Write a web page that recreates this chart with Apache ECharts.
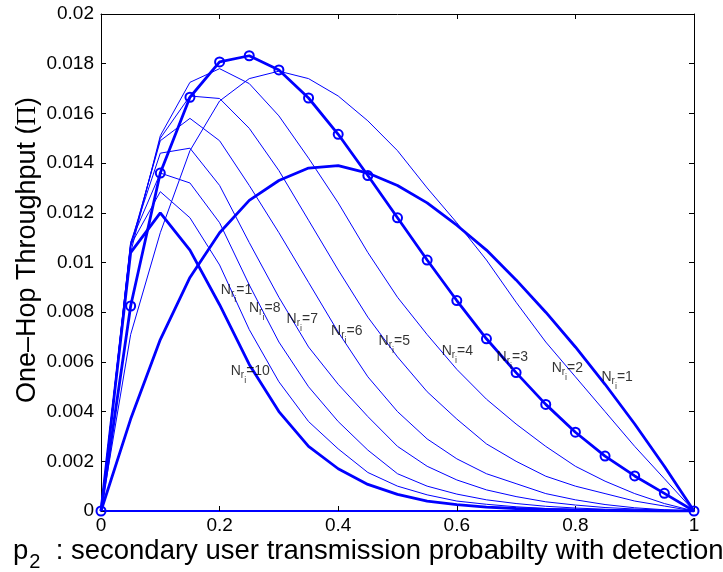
<!DOCTYPE html>
<html>
<head>
<meta charset="utf-8">
<script src="https://cdn.jsdelivr.net/npm/echarts@6/dist/echarts.min.js"></script>
<style>
  html, body { margin: 0; padding: 0; background: #fff; }
  #chart { width: 723px; height: 572px; }
</style>
</head>
<body>
<div id="chart"></div>
<script>
// Transmission probability p2 (x axis samples)
const p2 = [0, 0.05, 0.1, 0.15, 0.2, 0.25, 0.3, 0.35, 0.4, 0.45, 0.5,
            0.55, 0.6, 0.65, 0.7, 0.75, 0.8, 0.85, 0.9, 0.95, 1];

// One-hop throughput for each number of relays N_r_i
const nr1  = [0, 0.0037, 0.0069, 0.0094, 0.0112, 0.0125, 0.0133, 0.0138, 0.0139, 0.0136, 0.0131,
              0.0124, 0.0115, 0.0105, 0.0093, 0.0080, 0.0066, 0.0051, 0.0035, 0.0018, 0];
const nr2  = [0, 0.0071, 0.0112, 0.0145, 0.0165, 0.0174, 0.0177, 0.0174, 0.0167, 0.0157, 0.0145,
              0.0130, 0.0116, 0.0101, 0.0084, 0.0068, 0.0054, 0.0040, 0.0026, 0.0013, 0];
const nr3  = [0, 0.00825, 0.0136, 0.01665, 0.01807, 0.01832, 0.01775, 0.01662, 0.01516, 0.0135, 0.0118,
              0.0101, 0.00847, 0.00693, 0.00557, 0.00429, 0.00317, 0.00221, 0.00141, 0.00071, 0];
const nr4  = [0, 0.0104, 0.0151, 0.01725, 0.0178, 0.0172, 0.0159, 0.0142, 0.0124, 0.0104, 0.0086,
              0.0071, 0.0057, 0.0045, 0.0035, 0.0026, 0.0018, 0.0012, 0.0007, 0.0003, 0];
const nr5  = [0, 0.0106, 0.0150, 0.0167, 0.0166, 0.0154, 0.0137, 0.0117, 0.0097, 0.0078, 0.0062,
              0.0048, 0.0037, 0.0027, 0.0020, 0.0014, 0.0010, 0.0007, 0.0004, 0.0002, 0];
const nr6  = [0, 0.0107, 0.0149, 0.0158, 0.0149, 0.0131, 0.0112, 0.0092, 0.0072, 0.0054, 0.0040,
              0.0029, 0.0021, 0.0015, 0.0011, 0.0007, 0.00045, 0.00026, 0.00013, 0.00005, 0];
const nr7  = [0, 0.0108, 0.0144, 0.0146, 0.0131, 0.0108, 0.0086, 0.0066, 0.0051, 0.0038, 0.0026,
              0.0018, 0.00125, 0.00085, 0.00058, 0.00037, 0.00024, 0.00014, 0.00008, 0.00003, 0];
const nr8  = [0, 0.0108, 0.0136, 0.0132, 0.0116, 0.0091, 0.0068, 0.0050, 0.0036, 0.00245, 0.0015,
              0.0010, 0.00068, 0.00045, 0.0003, 0.00019, 0.00012, 0.00007, 0.00004, 0.00002, 0];
const nr9  = [0, 0.0107, 0.01285, 0.0118, 0.0099, 0.0073, 0.0052, 0.0036, 0.0025, 0.00155, 0.0010,
              0.00065, 0.0004, 0.00027, 0.00017, 0.0001, 0.00006, 0.00003, 0.00002, 0.00001, 0];
const nr10 = [0, 0.0104, 0.0120, 0.0105, 0.0083, 0.0059, 0.0040, 0.0026, 0.0017, 0.00107, 0.00067,
              0.0004, 0.00026, 0.00016, 0.0001, 0.00006, 0.00004, 0.00002, 0.00001, 0, 0];

// Curve annotations: text after "N_r_i=", and anchor point (left edge of the label)
const labelText = ['1', '8', '7', '6', '5', '4', '3', '2', '1', '10'];
const labelX    = [0.202, 0.2496, 0.313, 0.388, 0.468, 0.5745, 0.667, 0.760, 0.844, 0.2187];
const labelY    = [0.00905, 0.00833, 0.00789, 0.0074, 0.0070, 0.0066, 0.00636, 0.0059, 0.00555, 0.0058];

// Axis ticks
const xTicks = [0, 0.2, 0.4, 0.6, 0.8, 1];
const yTicks = [0, 0.002, 0.004, 0.006, 0.008, 0.01, 0.012, 0.014, 0.016, 0.018, 0.02];

const BLUE = '#0000ff';
const FONT = 'Liberation Sans, Arial, Helvetica, sans-serif';
const SERIF = 'Liberation Serif, DejaVu Serif, serif';

function pairs(ys) { return p2.map((x, i) => [x, ys[i]]); }

function curve(name, ys, thick, markers) {
  return {
    name: name,
    type: 'line',
    data: pairs(ys),
    showSymbol: !!markers,
    symbol: markers ? 'circle' : 'none',
    symbolSize: 9,
    itemStyle: { color: 'rgba(0,0,0,0)', borderColor: BLUE, borderWidth: 2 },
    lineStyle: { color: BLUE, width: thick ? 2.8 : 1 },
    z: thick ? 3 : 2,
    silent: true
  };
}

const series = [
  curve('Nr=2', nr2, false),
  curve('Nr=4', nr4, false),
  curve('Nr=5', nr5, false),
  curve('Nr=6', nr6, false),
  curve('Nr=7', nr7, false),
  curve('Nr=8', nr8, false),
  curve('Nr=9', nr9, false),
  curve('Nr=1', nr1, true),
  curve('Nr=10', nr10, true),
  curve('Nr=3', nr3, true, true),
  {
    name: 'labels',
    type: 'scatter',
    symbolSize: 0,
    silent: true,
    z: 5,
    data: labelText.map((t, i) => ({ value: [labelX[i], labelY[i]], txt: t })),
    label: {
      show: true,
      position: 'right',
      distance: 0,
      offset: [0, 4],
      formatter: p => '{n|N}{r|r}{i|i}{e|=' + p.data.txt + '}',
      rich: {
        n: { fontSize: 14, lineHeight: 14, fontFamily: FONT, color: '#000', verticalAlign: 'top' },
        r: { fontSize: 10, lineHeight: 10, fontFamily: FONT, color: '#000', verticalAlign: 'top', padding: [6, 0, 0, 0] },
        i: { fontSize: 9, lineHeight: 9, fontFamily: FONT, color: '#000', verticalAlign: 'top', padding: [12, 0, 0, 0] },
        e: { fontSize: 14, lineHeight: 14, fontFamily: FONT, color: '#000', verticalAlign: 'top' }
      }
    }
  }
];

const fmt = v => String(parseFloat(v.toFixed(4)));

const axisCommon = {
  type: 'value',
  splitLine: { show: false },
  axisTick: { show: true, inside: true, length: 5, lineStyle: { color: '#000', width: 1 } },
  axisLine: { show: true, onZero: false, lineStyle: { color: '#000', width: 1 } }
};

const chart = echarts.init(document.getElementById('chart'), null, { renderer: 'canvas' });
chart.setOption({
  animation: false,
  backgroundColor: '#fff',
  grid: { left: 101, right: 29, top: 14, bottom: 61, containLabel: false },
  xAxis: [
    Object.assign({}, axisCommon, {
      position: 'bottom',
      min: xTicks[0], max: xTicks[xTicks.length - 1], interval: 0.2,
      axisLine: { show: true, onZero: false, lineStyle: { color: BLUE, width: 2 } },
      axisLabel: { color: '#000', fontSize: 19, fontFamily: FONT, margin: 5, formatter: fmt }
    }),
    Object.assign({}, axisCommon, {
      position: 'top',
      min: xTicks[0], max: xTicks[xTicks.length - 1], interval: 0.2,
      axisLabel: { show: false }
    })
  ],
  yAxis: [
    Object.assign({}, axisCommon, {
      position: 'left',
      min: yTicks[0], max: yTicks[yTicks.length - 1], interval: 0.002,
      axisLabel: { color: '#000', fontSize: 19, fontFamily: FONT, margin: 7, formatter: fmt }
    }),
    Object.assign({}, axisCommon, {
      position: 'right',
      min: yTicks[0], max: yTicks[yTicks.length - 1], interval: 0.002,
      axisLabel: { show: false }
    })
  ],
  graphic: [
    {
      type: 'text',
      x: 28, y: 250,
      rotation: Math.PI / 2,
      style: {
        text: '{t|One\u2013Hop Throughput (}{g|\u03A0}{t|)}',
        fill: '#000',
        align: 'center', verticalAlign: 'middle',
        rich: {
          t: { fontSize: 27, lineHeight: 30, fontFamily: FONT, fill: '#000' },
          g: { fontSize: 27, lineHeight: 30, fontFamily: SERIF, fill: '#000' }
        }
      }
    },
    {
      type: 'text',
      x: 13, y: 537,
      style: {
        text: '{p|p}{s|2}{t|  : secondary user transmission probabilty with detection}',
        fill: '#000',
        align: 'left', verticalAlign: 'top',
        rich: {
          p: { fontSize: 27.5, lineHeight: 27, fontFamily: FONT, fill: '#000', verticalAlign: 'top' },
          s: { fontSize: 20, lineHeight: 20, fontFamily: FONT, fill: '#000', verticalAlign: 'top', padding: [15, 0, 0, 1] },
          t: { fontSize: 27.5, lineHeight: 27, fontFamily: FONT, fill: '#000', verticalAlign: 'top' }
        }
      }
    }
  ],
  series: series
});
</script>
</body>
</html>
